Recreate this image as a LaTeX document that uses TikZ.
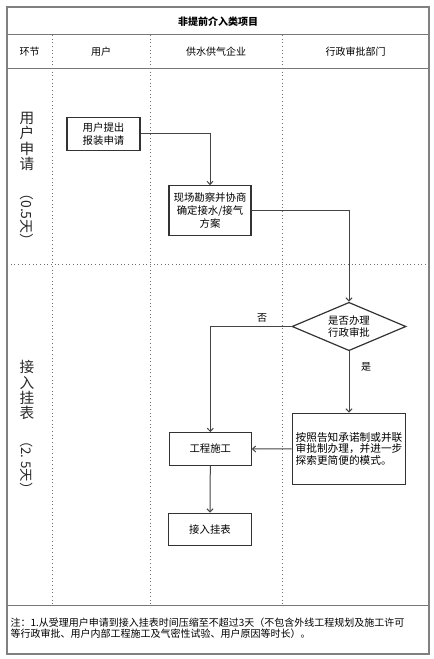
\documentclass[tikz,border=0pt]{standalone}
\usepackage{fontspec}
\setmainfont{Noto Sans CJK SC}
\usetikzlibrary{shapes.geometric,arrows.meta}

\newcommand\tightlines{\lineskiplimit=-5pt\relax}

\tikzset{every picture/.style={line width=0.75pt}}
\tikzset{
  frameline/.style={draw={rgb, 255:red, 128; green, 128; blue, 128 }, line width=1.1pt},
  rowline/.style={draw={rgb, 255:red, 120; green, 120; blue, 120 }, line width=0.75pt},
  laneline/.style={draw={rgb, 255:red, 110; green, 110; blue, 110 }, line width=0.75pt, dotted},
  procbox/.style={draw={rgb, 255:red, 51; green, 51; blue, 51 }, line width=0.9pt, align=center, inner sep=0.75pt, font=\fontsize{7.8}{9.6}\selectfont\tightlines},
  decision/.style={procbox, shape=diamond, aspect=2.35, inner sep=0pt},
  flowline/.style={draw={rgb, 255:red, 68; green, 68; blue, 68 }, line width=0.75pt, -{Straight Barb[length=2.4pt,width=4.6pt]}},
  headtext/.style={inner sep=0.75pt, font=\fontsize{7.5}{9}\selectfont},
  stagetext/.style={inner sep=0.75pt, align=center, text={rgb, 255:red, 40; green, 40; blue, 40 }, font=\fontsize{11}{11.5}\selectfont\tightlines}
}

\begin{document}
\begin{tikzpicture}[x=0.75pt,y=0.75pt,yscale=-1,xscale=1]
\useasboundingbox (0,0) rectangle (434,659);

%Straight Lines: rows
\draw [rowline]   (7,35) -- (429,35) ;
\draw [rowline]   (7,69) -- (429,69) ;
\draw [rowline]   (7,605) -- (429,605) ;
%Dotted Lines: lanes
\draw [laneline]   (52,35) -- (52,605) ;
\draw [laneline]   (150,35) -- (150,605) ;
\draw [laneline]   (282,35) -- (282,605) ;
\draw [laneline]   (7,264) -- (429,264) ;
%Shape: Rectangle (frame)
\draw [frameline]   (7,7) rectangle (429,654) ;

% Text Node: title and heads
\node [headtext, font=\fontsize{7.5}{9}\selectfont\bfseries] (title) at (218,22) {非提前介入类项目};
\node [headtext] (hstage) at (29.5,52) {环节};
\node [headtext] (huser) at (101,52) {用户};
\node [headtext] (hcorp) at (216,52) {供水供气企业};
\node [headtext] (hgov) at (355.5,52) {行政审批部门};

% Text Node: stages
\node [stagetext] (stage1) at (27,180) {用\\户\\申\\请\\[1pt]\rotatebox{-90}{\fontsize{10.5}{11}\selectfont（0.5天）}};
\node [stagetext] (stage2) at (27,428) {接\\入\\挂\\表\\[0pt]\rotatebox{-90}{\fontsize{10}{11}\selectfont（2.~5天）}};

%Shape: Rectangle
\node [procbox, minimum width=54.75pt, minimum height=24.5pt] (apply) at (103.5,134) {用户提出\\报装申请};
%Shape: Rectangle
\node [procbox, minimum width=61.5pt, minimum height=37.2pt] (survey) at (210,210.5) {现场勘察并协商\\确定接水/接气\\方案};
%Shape: Diamond
\node [decision, minimum width=85.5pt, minimum height=36.3pt] (ask) at (349,326.5) {是否办理\\行政审批};
%Shape: Rectangle
\node [procbox, align=left, font=\fontsize{8}{8.8}\selectfont\tightlines, minimum width=85.3pt, minimum height=53.25pt] (promise) at (349,448.8) {按照告知承诺制或并联\\审批制办理，并进一步\\探索更简便的模式。};
%Shape: Rectangle
\node [procbox, minimum width=61.5pt, minimum height=24.5pt] (build) at (210.3,449) {工程施工};
%Shape: Rectangle
\node [procbox, minimum width=62pt, minimum height=24.3pt] (meter) at (210,529.5) {接入挂表};

%Straight Lines
\draw [flowline]   (apply.east) -| (survey.north) ;
\draw [flowline]   (survey.east) -| (ask.north) ;
\draw [flowline]   (ask.west) -| (build.north) ;
\draw [flowline]   (ask.south) -- (promise.north) ;
\draw [flowline]   (promise.west) -- (build.east) ;
\draw [flowline]   (build.south) -- (meter.north) ;

% Text Node
\node [headtext] (no) at (262,318) {否};
% Text Node
\node [headtext] (yes) at (366,367) {是};

% Text Node: note
\node [anchor=west, align=left, inner sep=0.75pt, font=\fontsize{7.5}{8.1}\selectfont] (note) at (9,628) {注：1.从受理用户申请到接入挂表时间压缩至不超过3天（不包含外线工程规划及施工许可\\等行政审批、用户内部工程施工及气密性试验、用户原因等时长）。};

\end{tikzpicture}
\end{document}
